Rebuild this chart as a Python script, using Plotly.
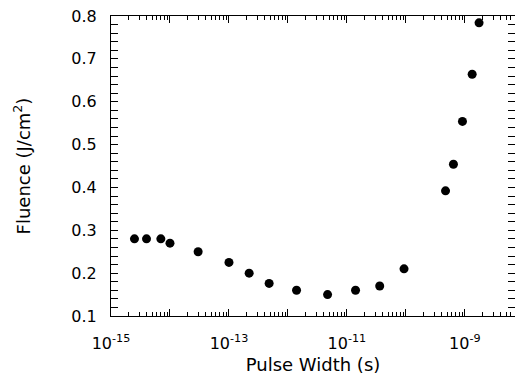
import numpy as np
import plotly.graph_objects as go

pulse_width = [2.5e-15, 4e-15, 7e-15, 1e-14, 3e-14, 1e-13, 2.2e-13, 4.8e-13,
               1.4e-12, 4.7e-12, 1.4e-11, 3.6e-11, 9.3e-11, 4.7e-10, 6.4e-10,
               9.1e-10, 1.33e-9, 1.74e-9]
fluence = [0.28, 0.28, 0.28, 0.27, 0.25, 0.225, 0.2, 0.176,
           0.16, 0.15, 0.16, 0.17, 0.21, 0.392, 0.454,
           0.554, 0.664, 0.784]

major_x = [1e-15, 1e-14, 1e-13, 1e-12, 1e-11, 1e-10, 1e-9, 1e-8]
major_x_text = ["10<sup>-15</sup>", "", "10<sup>-13</sup>", "", "10<sup>-11</sup>", "", "10<sup>-9</sup>", ""]
minor_x = [m * d for d in [1e-15, 1e-14, 1e-13, 1e-12, 1e-11, 1e-10, 1e-9] for m in range(2, 10)]
y_ticks = [0.1, 0.2, 0.3, 0.4, 0.5, 0.6, 0.7, 0.8]

fig = go.Figure()
fig.add_trace(go.Scatter(x=pulse_width, y=fluence, mode="markers",
                         marker=dict(color="black", size=9), showlegend=False))
# invisible copy to carry the top axis with its minor ticks
fig.add_trace(go.Scatter(x=pulse_width, y=fluence, mode="markers", xaxis="x2",
                         marker=dict(color="rgba(0,0,0,0)", size=1),
                         hoverinfo="skip", showlegend=False))

tick_font = dict(family="DejaVu Sans, sans-serif", size=16, color="black")
title_font = dict(family="DejaVu Sans, sans-serif", size=18, color="black")
x_range = [-15, -8.15]
fig.update_layout(
    width=515, height=375,
    margin=dict(l=111, r=0, t=16, b=59),
    paper_bgcolor="white", plot_bgcolor="white",
    font=tick_font,
    xaxis=dict(type="log", range=x_range,
               tickmode="array", tickvals=major_x, ticktext=major_x_text,
               ticks="inside", ticklen=7, tickcolor="black", tickwidth=1,
               showline=True, linecolor="black", linewidth=1, mirror=True,
               showgrid=False, zeroline=False, ticklabelstandoff=13,
               minor=dict(tickmode="array", tickvals=minor_x, ticks="inside",
                          ticklen=4, tickcolor="black", showgrid=False),
               title=dict(text="Pulse Width (s)", standoff=6, font=title_font),
               tickfont=tick_font),
    xaxis2=dict(type="log", range=x_range, overlaying="x", side="top",
                tickmode="array", tickvals=major_x, showticklabels=False,
                ticks="inside", ticklen=7, tickcolor="black",
                showline=False, showgrid=False, zeroline=False,
                minor=dict(tickmode="array", tickvals=minor_x, ticks="inside",
                           ticklen=4, tickcolor="black", showgrid=False)),
    yaxis=dict(range=[0.1, 0.8], tickmode="array", tickvals=y_ticks,
               tickformat=".1f",
               ticks="inside", ticklen=7, tickcolor="black",
               showline=True, linecolor="black", linewidth=1, mirror="allticks",
               showgrid=False, zeroline=False, ticklabelstandoff=10,
               minor=dict(dtick=0.02, ticks="inside", ticklen=4, tickcolor="black", showgrid=False),
               title=dict(text="Fluence (J/cm<sup>2</sup>)", standoff=36, font=title_font),
               tickfont=tick_font),
)
fig.write_html("out.html")
